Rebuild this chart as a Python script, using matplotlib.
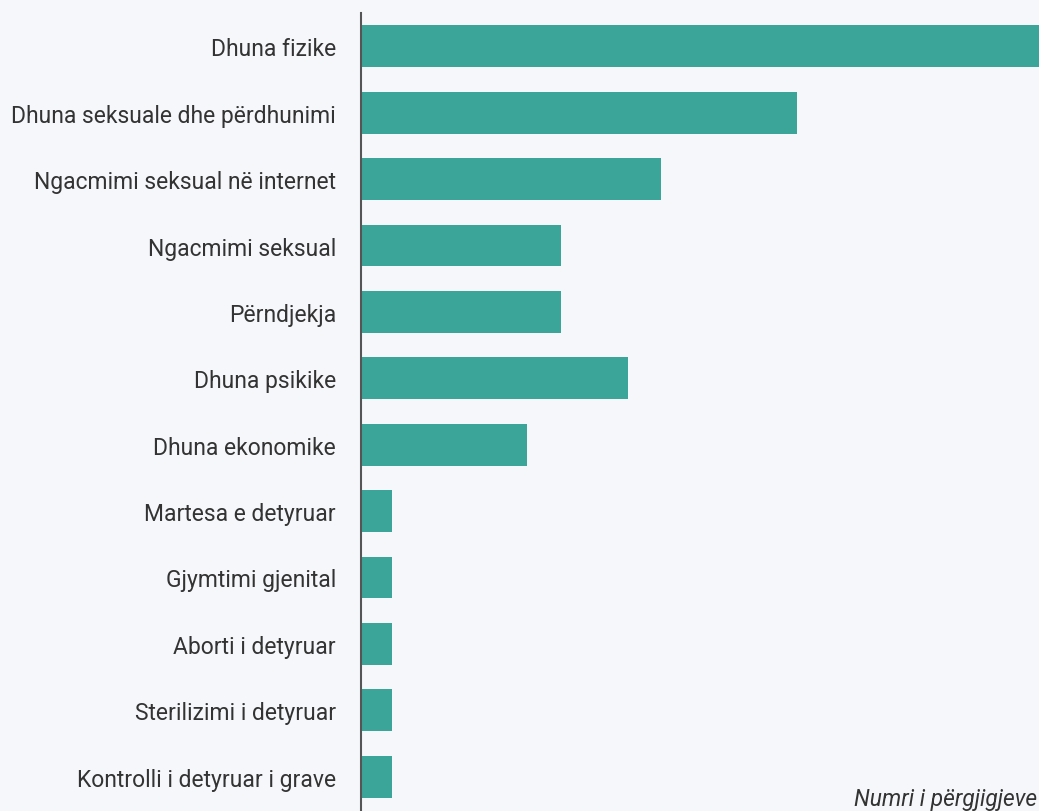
import matplotlib.pyplot as plt

# kategorite dhe vlerat (lexuar nga grafiku)
kategorite = ['Dhuna fizike', 'Dhuna seksuale dhe përdhunimi', 'Ngacmimi seksual në internet',
              'Ngacmimi seksual', 'Përndjekja', 'Dhuna psikike', 'Dhuna ekonomike',
              'Martesa e detyruar', 'Gjymtimi gjenital', 'Aborti i detyruar',
              'Sterilizimi i detyruar', 'Kontrolli i detyruar i grave']
vlerat = [44.5, 28.6, 19.7, 13.1, 13.1, 17.5, 10.9, 2, 2, 2, 2, 2]

plt.rcParams['font.family'] = ['Roboto', 'DejaVu Sans']

fig = plt.figure(figsize=(10.39, 8.12), dpi=100, facecolor='#f5f7fa')
ax = fig.add_axes([0.3475, 0.0015, 0.6525, 0.981], facecolor='#f5f7fa')

pozicionet = range(len(kategorite))
ax.barh(pozicionet, vlerat, height=0.63, color='#3ba59a')
ax.set_ylim(len(kategorite) - 0.5, -0.5)
ax.set_xlim(0, 44.5)

ax.set_yticks(list(pozicionet))
ax.set_yticklabels(kategorite, fontsize=16.5, color='#333333', va='center_baseline')
ax.tick_params(axis='y', length=0, pad=18)
ax.set_xticks([])

for s in ['top', 'right', 'bottom']:
    ax.spines[s].set_visible(False)
ax.spines['left'].set_color('#555555')
ax.spines['left'].set_linewidth(1.5)

fig.text(0.998, 0.008, 'Numri i përgjigjeve', ha='right', va='baseline',
         fontsize=16.4, style='italic', color='#333333')

plt.savefig('out.png', dpi=100, facecolor=fig.get_facecolor())
